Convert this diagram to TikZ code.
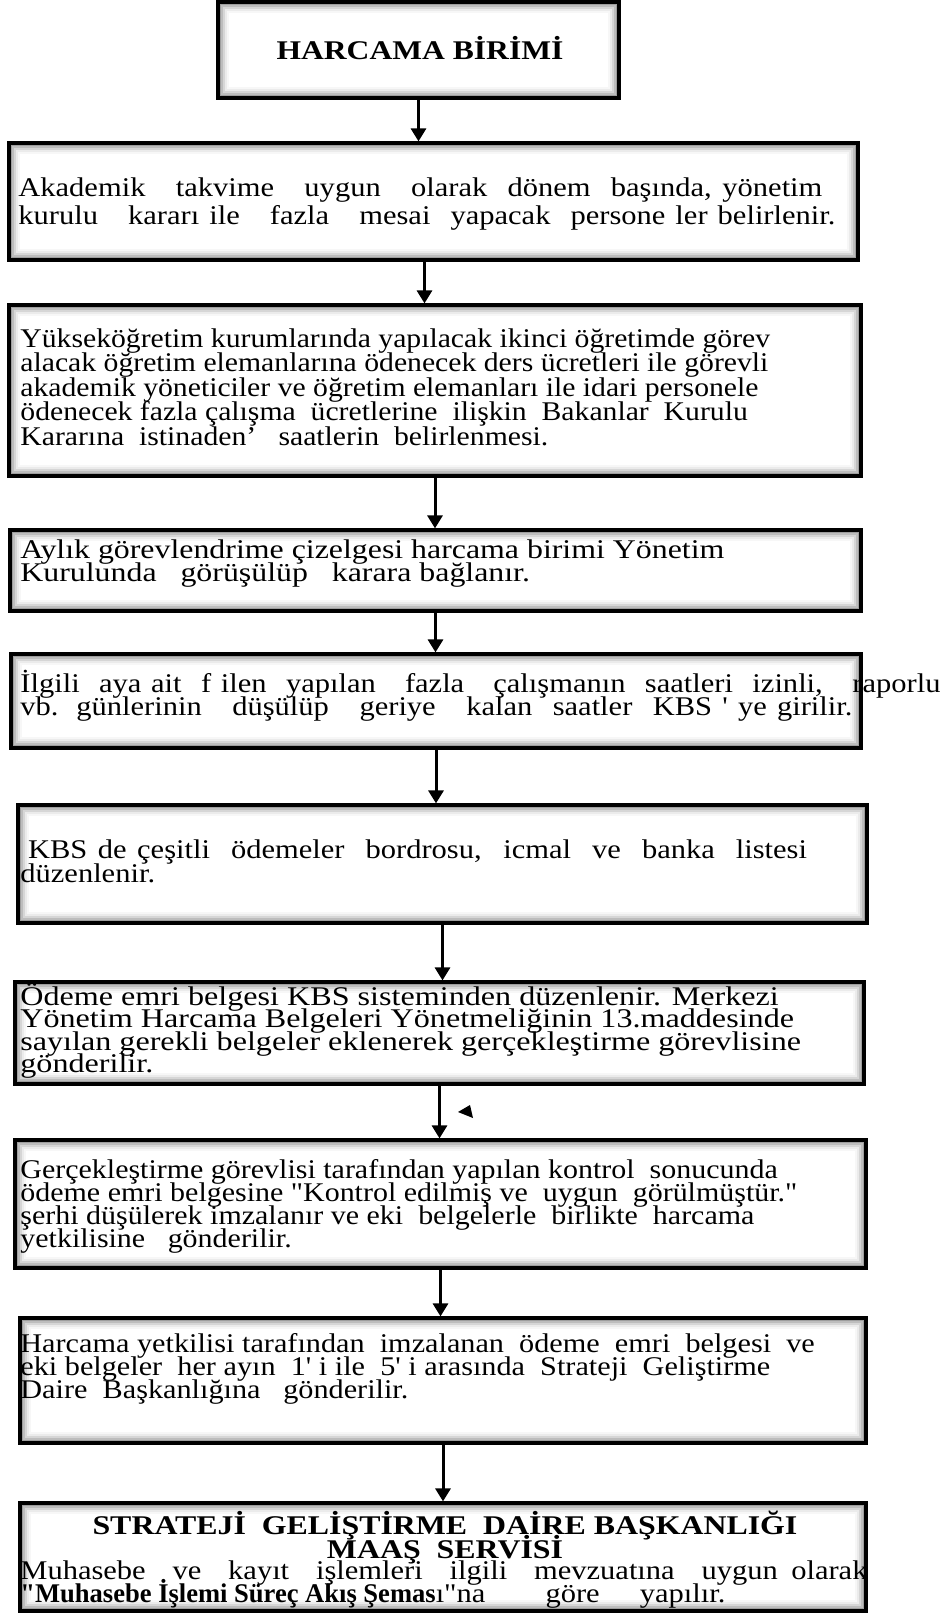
\documentclass[tikz,border=0pt]{standalone}
\usepackage{fontspec}
\setmainfont{Liberation Serif}[Ligatures=TeXOff]
\usepackage{graphicx}
\usetikzlibrary{arrows.meta}

% horizontal stretch of the current text block
\newcommand\hs{1}
% left-aligned block of lines: #1 horizontal scale, #2 leading (pt), #3 lines
\newcommand{\lines}[3]{\renewcommand\hs{#1}\scalebox{#1}[1]{\vtop{\baselineskip=#2pt\lineskiplimit=-\maxdimen\lineskip=0pt\let\\\cr\halign{\relax##\hfil\cr#3\crcr}}}}
% centred block of lines
\newcommand{\clines}[3]{\renewcommand\hs{#1}\scalebox{#1}[1]{\vtop{\baselineskip=#2pt\lineskiplimit=-\maxdimen\lineskip=0pt\let\\\cr\halign{\hfil\relax##\hfil\cr#3\crcr}}}}
% justified line spread to #1 px
\newcommand{\jl}[2]{\relax\pgfmathsetlengthmacro\jw{#1*0.5/\hs}\makebox[\jw][s]{#2}}

\tikzset{
  sz/.style 2 args={minimum width=#1*0.5pt, minimum height=#2*0.5pt},
  box/.style={draw, line width=1.6pt, fill=white, inner sep=0pt,
    path picture={
      \foreach \i/\c in {1/38,2/26,3/16,4/8,5/3}{
        \draw[black!\c, line width=1pt]
          ([shift={(\i*1pt,-\i*1pt)}]path picture bounding box.north west) rectangle
          ([shift={(-\i*1pt,\i*1pt)}]path picture bounding box.south east);
      }}},
  txt/.style={inner sep=0pt, anchor=base west, font=\fontsize{13.5}{13.5}\selectfont},
  arr/.style={line width=1.5pt, -{Triangle[width=7.5pt,length=6.5pt]}},
}

\begin{document}
\begin{tikzpicture}[x=0.5pt, y=-0.5pt]
\useasboundingbox (0,0) rectangle (944,1613);

% process boxes
\node[box, line width=2pt, sz={401}{96}] (b1) at (418.5,50) {};
\node[box, sz={849}{117}] (b2) at (433.5,201.5) {};
\node[box, sz={852}{171}] (b3) at (435,390.5) {};
\node[box, sz={851}{81}]  (b4) at (435.5,570.5) {};
\node[box, sz={850}{94}]  (b5) at (436,701) {};
\node[box, sz={849}{118}] (b6) at (442.5,864) {};
\node[box, sz={849}{102}] (b7) at (439.5,1033) {};
\node[box, sz={851}{128}] (b8) at (440.5,1204) {};
\node[box, sz={846}{125}] (b9) at (443,1380.5) {};
\node[box, sz={846}{108}] (b10) at (443,1557) {};

% texts
\node[txt, anchor=base, font=\fontsize{13.5}{13.5}\selectfont\bfseries] (t1) at (420,59)
  {\scalebox{1.17}[1]{HARCAMA BİRİMİ}};

\node[txt] (t2) at (18,196) {\lines{1.13}{14}{%
  \jl{804}{Akademik~~ takvime~~ uygun~~ olarak~ dönem~ başında, yönetim}\\
  \jl{817}{kurulu~~ kararı ile~~ fazla~~ mesai~ yapacak~ persone ler belirlenir.}}};

\node[txt] (t3) at (20,347) {\lines{1.10}{12.25}{%
  Yükseköğretim kurumlarında yapılacak ikinci öğretimde görev\\
  alacak öğretim elemanlarına ödenecek ders ücretleri ile görevli\\
  akademik yöneticiler ve öğretim elemanları ile idari personele\\
  ödenecek fazla çalışma~ ücretlerine~ ilişkin~ Bakanlar~ Kurulu\\
  Kararına~ istinaden’~~ saatlerin~ belirlenmesi.}};

\node[txt] (t4) at (20,558) {\lines{1.18}{11.6}{%
  Aylık görevlendrime çizelgesi harcama birimi Yönetim\\
  Kurulunda~~ görüşülüp~~ karara bağlanır.}};

\node[txt] (t5) at (20,692) {\lines{1.13}{11.9}{%
  \jl{920}{İlgili~ aya ait~ f ilen~ yapılan~~ fazla~~ çalışmanın~ saatleri~ izinli,~~ raporlu}\\
  \jl{832}{vb. günlerinin~~ düşülüp~~ geriye~~ kalan~ saatler~ KBS ' ye girilir.}}};

\node[txt] (t6) at (20,858) {\lines{1.13}{12}{%
  \ \jl{779}{KBS de çeşitli~ ödemeler~ bordrosu,~ icmal~ ve~ banka~ listesi}\\
  düzenlenir.}};

\node[txt] (t7) at (20,1005) {\lines{1.19}{11.25}{%
  Ödeme emri belgesi KBS sisteminden düzenlenir. Merkezi\\
  Yönetim Harcama Belgeleri Yönetmeliğinin 13.maddesinde\\
  sayılan gerekli belgeler eklenerek gerçekleştirme görevlisine\\
  gönderilir.}};

\node[txt] (t8) at (20,1178) {\lines{1.11}{11.65}{%
  Gerçekleştirme görevlisi tarafından yapılan kontrol~ sonucunda\\
  ödeme emri belgesine "Kontrol edilmiş ve~ uygun~ görülmüştür."\\
  şerhi düşülerek imzalanır ve eki~ belgelerle~ birlikte~ harcama\\
  yetkilisine~~ gönderilir.}};

\node[txt] (t9) at (20,1352) {\lines{1.12}{11.5}{%
  Harcama yetkilisi tarafından~ imzalanan~ ödeme~ emri~ belgesi~ ve\\
  eki belgeler~ her ayın~ 1' i ile~ 5' i arasında~ Strateji~ Geliştirme\\
  Daire~ Başkanlığına~~ gönderilir.}};

\node[txt, anchor=base, font=\fontsize{13.5}{13.5}\selectfont\bfseries] (t10a) at (445,1534)
  {\clines{1.18}{12}{STRATEJİ~ GELİŞTİRME~ DAİRE BAŞKANLIĞI\\ MAAŞ~ SERVİSİ}};

\node[txt] (t10b) at (20,1579) {\lines{1.13}{11.5}{%
  \jl{847}{Muhasebe~ ve~ kayıt~ işlemleri~ ilgili~ mevzuatına~ uygun olarak}\\
  \jl{705}{\scalebox{0.87}[1]{\textbf{"Muhasebe İşlemi Süreç Akış Şemas}}ı"na~~ göre~ yapılır.}}};

% flow arrows
\draw[arr] (b1.south) -- (b1.south |- b2.north);
\draw[arr] ([xshift=-4.5pt]b2.south) -- ([xshift=-4.5pt]b2.south |- b3.north);
\draw[arr] (b3.south) -- (b3.south |- b4.north);
\draw[arr] (b4.south) -- (b4.south |- b5.north);
\draw[arr] (b5.south) -- (b5.south |- b6.north);
\draw[arr] (b6.south) -- (b6.south |- b7.north);
\draw[arr] (b7.south) -- (b7.south |- b8.north);
\draw[arr] (b8.south) -- (b8.south |- b9.north);
\draw[arr] (b9.south) -- (b9.south |- b10.north);

% small stray pointer beside the seventh connector
\fill (470,1105) -- (458,1112) -- (473,1118) -- cycle;
\end{tikzpicture}
\end{document}
